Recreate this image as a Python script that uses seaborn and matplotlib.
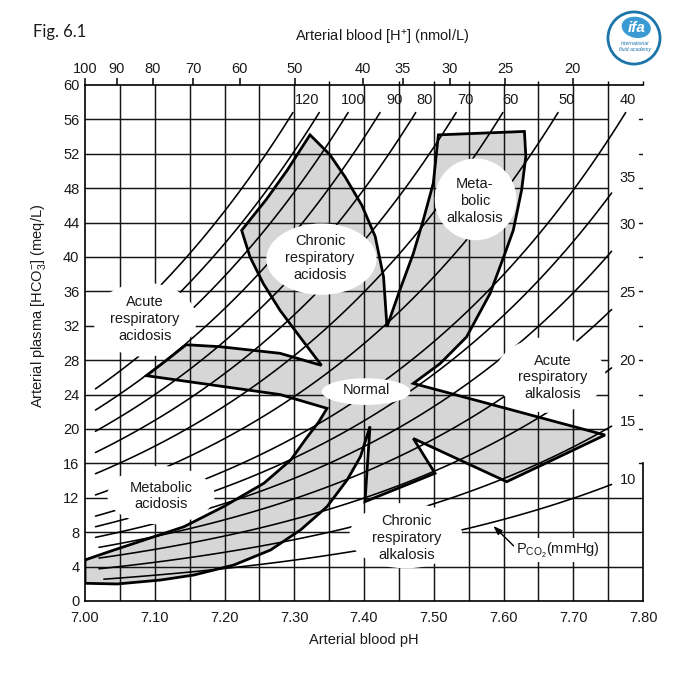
import matplotlib
matplotlib.use('Agg')
from matplotlib.patches import Circle, Ellipse
import matplotlib.pyplot as plt
import numpy as np
import pandas as pd
import seaborn as sns

# isobars, PCO2 in mmHg, with the pH at which each one starts
PCO2 = [10, 15, 20, 25, 30, 35, 40, 50, 60, 70, 80, 90, 100, 110, 120]
PCO2_START_PH = [7.027, 7.02, 7.02, 7.02, 7.015, 7.015, 7.015, 7.015,
                 7.015, 7.015, 7.015, 7.015, 7.015, 7.09, 7.09]
ISOBAR_TOP = 56.8     # isobars >= 40 stop at this HCO3
ISOBAR_RIGHT = 7.755  # isobars < 40 stop at this pH

TOP_LABELS = [120, 100, 90, 80, 70, 60, 50, 40]
TOP_LABEL_PH = [7.318, 7.384, 7.444, 7.487, 7.545, 7.610, 7.690, 7.778]
RIGHT_LABELS = [35, 30, 25, 20, 15, 10]
RIGHT_LABEL_HCO3 = [49.2, 43.7, 35.8, 27.9, 20.85, 14.1]

PH_TICKS = [7.00, 7.10, 7.20, 7.30, 7.40, 7.50, 7.60, 7.70, 7.80]
PH_GRID = [7.05, 7.10, 7.15, 7.20, 7.25, 7.30, 7.35, 7.40, 7.45, 7.50,
           7.55, 7.60, 7.65, 7.70, 7.75]
HCO3_TICKS = [0, 4, 8, 12, 16, 20, 24, 28, 32, 36, 40, 44, 48, 52, 56, 60]
H_TICKS = [100, 90, 80, 70, 60, 50, 40, 35, 30, 25, 20]

BAND_PH = [7.0, 7.035, 7.0703, 7.142, 7.1993, 7.2566, 7.295, 7.318, 7.335,
           7.347, 7.28, 7.088, 7.117, 7.145, 7.1935, 7.2796, 7.339, 7.3082,
           7.2796, 7.2557, 7.2366, 7.2246, 7.26, 7.29, 7.3226, 7.351, 7.373,
           7.397, 7.416, 7.428, 7.4326, 7.433, 7.4516, 7.4707, 7.485, 7.4994,
           7.5066, 7.630, 7.632, 7.626, 7.614, 7.602, 7.581, 7.547, 7.509,
           7.4707, 7.7455, 7.6046, 7.4707, 7.5018, 7.4014, 7.4086, 7.395,
           7.376, 7.347, 7.309, 7.266, 7.2136, 7.156, 7.1085, 7.046, 7.0]
BAND_HCO3 = [4.77, 5.75, 6.7, 8.64, 11.0, 13.7, 16.4, 19.0, 20.8,
             22.4, 24.0, 26.2, 28.0, 29.8, 29.57, 28.8, 27.4, 30.7,
             33.8, 36.9, 40.0, 43.1, 46.7, 50.1, 54.2, 51.9, 49.3,
             46.0, 42.4, 37.7, 32.3, 31.9, 36.2, 40.4, 44.3, 48.6,
             54.2, 54.6, 51.7, 47.8, 43.1, 40.4, 35.8, 30.7, 27.6,
             25.3, 19.3, 13.87, 18.9, 14.85, 11.55, 20.3, 16.8,
             14.1, 10.97, 8.26, 5.93, 4.19, 3.02, 2.44, 1.98, 2.06]

REGION_LABELS = ['Acute\nrespiratory\nacidosis', 'Chronic\nrespiratory\nacidosis',
                 'Meta-\nbolic\nalkalosis', 'Normal', 'Acute\nrespiratory\nalkalosis',
                 'Metabolic\nacidosis', 'Chronic\nrespiratory\nalkalosis']
REGION_LABEL_PH = [7.086, 7.337, 7.559, 7.403, 7.671, 7.109, 7.461]
REGION_LABEL_HCO3 = [32.8, 39.9, 46.5, 24.5, 26.0, 12.2, 7.3]
# white patches behind the labels: centre pH, centre HCO3, width, height
LABEL_PATCHES = [(7.086, 32.7, 0.148, 8.6), (7.339, 39.75, 0.158, 8.3),
                 (7.560, 46.7, 0.117, 9.5), (7.403, 24.35, 0.127, 3.1),
                 (7.667, 26.3, 0.158, 8.84), (7.109, 12.3, 0.154, 6.8),
                 (7.460, 7.6, 0.162, 7.6)]

INK = '#000000'
GRID = '#151515'
TEXT = '#1a1a1a'
FILL = '#d6d6d6'
BLUE = '#1b75a8'


def isobars():
    rows = []

    for p, start in zip(PCO2, PCO2_START_PH):
        if p >= 40:
            end = 6.1 + np.log10(ISOBAR_TOP / (0.03 * p))
        else:
            end = ISOBAR_RIGHT

        for ph in np.linspace(start, end, 80):
            rows.append({'pco2': p, 'pH': ph,
                         'HCO3': 0.03 * p * 10 ** (ph - 6.1)})

    return pd.DataFrame(rows)


def main():
    sns.set_theme(style='white')
    plt.rcParams['font.family'] = ['Liberation Sans', 'DejaVu Sans']
    plt.rcParams['mathtext.fontset'] = 'custom'
    plt.rcParams['mathtext.rm'] = 'Liberation Sans'
    plt.rcParams['mathtext.it'] = 'Liberation Sans:italic'
    plt.rcParams['mathtext.bf'] = 'Liberation Sans:bold'

    fig = plt.figure(figsize=(6.8, 6.8), dpi=100)
    ax = fig.add_axes([85 / 680, 1 - 601 / 680, 558 / 680, 516 / 680])
    ax.set_xlim(7.0, 7.8)
    ax.set_ylim(0, 60)

    # shaded bands
    ax.fill(BAND_PH, BAND_HCO3, color=FILL, lw=0, zorder=1)

    # grid
    for x in PH_GRID:
        ax.plot([x, x], [0, 60], color=GRID, lw=1.05, zorder=2)
    for y in HCO3_TICKS[1:-1]:
        x_end = 7.80 if y <= 12 else 7.75
        ax.plot([7.0, x_end], [y, y], color=GRID, lw=1.05, zorder=2)
        if y > 12:
            ax.plot([7.794, 7.80], [y, y], color=GRID, lw=1.05, zorder=2)

    # isobars
    sns.lineplot(data=isobars(), x='pH', y='HCO3', units='pco2',
                 estimator=None, sort=False, color=INK, lw=1.15,
                 legend=False, ax=ax, zorder=3)

    # white patches and band outline
    for cx, cy, w, h in LABEL_PATCHES:
        ax.add_patch(Ellipse((cx, cy), w, h, color='white', lw=0, zorder=4))
    ax.plot(BAND_PH + BAND_PH[:1], BAND_HCO3 + BAND_HCO3[:1], color=INK,
            lw=2.0, solid_joinstyle='miter', zorder=5)

    for text, x, y in zip(REGION_LABELS, REGION_LABEL_PH, REGION_LABEL_HCO3):
        ax.text(x, y, text, ha='center', va='center', fontsize=10.5,
                color=TEXT, linespacing=1.25, zorder=6)

    for p, x in zip(TOP_LABELS, TOP_LABEL_PH):
        ax.text(x, 58.3, str(p), ha='center', va='center', fontsize=10.5,
                color=TEXT, zorder=6)
    for p, y in zip(RIGHT_LABELS, RIGHT_LABEL_HCO3):
        ax.text(7.778, y, str(p), ha='center', va='center', fontsize=10.5,
                color=TEXT, zorder=6)

    ax.annotate('P$_{\\mathrm{CO}_2}$(mmHg)', xy=(7.5855, 8.72),
                xytext=(7.678, 5.93), ha='center', va='center',
                fontsize=10.5, color=TEXT, zorder=6,
                bbox=dict(boxstyle='square,pad=0.15', fc='white', ec='none'),
                arrowprops=dict(arrowstyle='-|>,head_length=0.5,head_width=0.18',
                                color=INK, lw=1.0, shrinkA=0, shrinkB=0,
                                relpos=(0.0, 0.6)))

    # frame
    for side in ['top', 'left', 'bottom', 'right']:
        ax.spines[side].set_visible(True)
        ax.spines[side].set_color(INK)
        ax.spines[side].set_linewidth(1.2)
    ax.spines['right'].set_bounds(0, 16)

    ax.set_xticks(PH_TICKS)
    ax.set_xticklabels([f'{t:.2f}' for t in PH_TICKS])
    ax.set_yticks(HCO3_TICKS)
    ax.set_yticklabels([str(t) for t in HCO3_TICKS])
    ax.tick_params(axis='x', bottom=True, top=False, length=0, pad=7,
                   labelsize=10.5, labelcolor=TEXT)
    ax.tick_params(axis='y', left=True, right=False, length=0, pad=4,
                   labelsize=10.5, labelcolor=TEXT)
    ax.set_xlabel('')
    ax.set_ylabel('Arterial plasma [HCO$_3^{-}$] (meq/L)', fontsize=10.5,
                  color=TEXT)
    ax.yaxis.set_label_coords(-0.066, 0.572)
    ax.text(0.5, -0.076, 'Arterial blood pH', transform=ax.transAxes,
            ha='center', va='center', fontsize=10.5, color=TEXT)

    # [H+] scale along the top
    top = ax.secondary_xaxis('top')
    top.set_xticks([9 - np.log10(h) for h in H_TICKS])
    top.set_xticklabels([str(h) for h in H_TICKS])
    top.set_xticks([7.35, 7.45, 7.50, 7.55, 7.65, 7.75, 7.80], minor=True)
    top.tick_params(axis='x', which='major', direction='out', length=5,
                    width=1.1, color=INK, pad=1.5, labelsize=10.5,
                    labelcolor=TEXT)
    top.tick_params(axis='x', which='minor', direction='out', length=3,
                    width=1.0, color=INK)
    top.spines['top'].set_visible(False)
    ax.text(0.532, 1.093, 'Arterial blood [H$^{+}$] (nmol/L)',
            transform=ax.transAxes, ha='center', va='center',
            fontsize=10.5, color=TEXT)

    fig.text(33 / 680, 1 - 32 / 680, 'Fig. 6.1', ha='left', va='center',
             fontsize=12, color=TEXT, family=['Lato', 'DejaVu Sans'])

    # logo
    logo = fig.add_axes([606 / 680, 1 - 66 / 680, 56 / 680, 56 / 680])
    logo.set_xlim(-1, 1)
    logo.set_ylim(-1, 1)
    logo.set_aspect('equal')
    logo.axis('off')
    logo.add_patch(Circle((0, 0), 0.93, fill=False, ec=BLUE, lw=2.0))
    logo.add_patch(Ellipse((0.08, 0.38), 1.05, 0.75, angle=-10,
                           color='#3a9ad4', lw=0))
    logo.text(0.1, 0.36, 'ifa', color='white', fontsize=11,
              fontstyle='italic', fontweight='bold', ha='center',
              va='center')
    logo.text(0.05, -0.2, 'international', color=BLUE, fontsize=3.8,
              fontstyle='italic', ha='center', va='center')
    logo.text(0.05, -0.42, 'fluid academy', color=BLUE, fontsize=3.8,
              fontstyle='italic', ha='center', va='center')

    fig.savefig('out.png', dpi=100)


if __name__ == '__main__':
    main()
